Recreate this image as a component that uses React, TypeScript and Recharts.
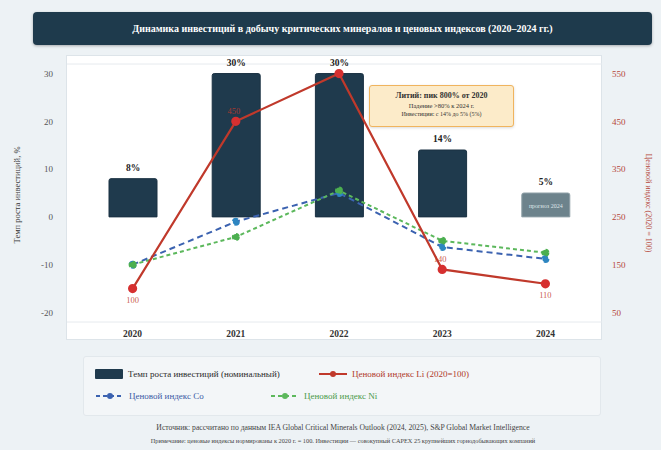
import React from 'react';
import { ComposedChart, Bar, Line, XAxis, YAxis, CartesianGrid, LabelList, Cell } from 'recharts';

const years = ['2020', '2021', '2022', '2023', '2024'];
const investmentGrowth = [8, 30, 30, 14, 5];
const barNotes = ['', '', '', '', 'прогноз 2024'];
const liIndex = [100, 450, 550, 140, 110];
const liShowLabel = [true, true, false, true, true];
const coIndex = [150, 240, 300, 187, 162];
const niIndex = [150, 208, 305, 200, 175];
const leftTicks = [-20, -10, 0, 10, 20, 30];
const rightTicks = [50, 150, 250, 350, 450, 550];

const title = 'Динамика инвестиций в добычу критических минералов и ценовых индексов (2020–2024 гг.)';
const leftAxisTitle = 'Темп роста инвестиций, %';
const rightAxisTitle = 'Ценовой индекс (2020 = 100)';
const noteLines = ['Литий: пик 800% от 2020', 'Падение >80% к 2024 г.', 'Инвестиции: с 14% до 5% (5%)'];
const sourceLine = 'Источник: рассчитано по данным IEA Global Critical Minerals Outlook (2024, 2025), S&P Global Market Intelligence';
const remarkLine = 'Примечание: ценовые индексы нормированы к 2020 г. = 100. Инвестиции — совокупный CAPEX 25 крупнейших горнодобывающих компаний';

const legendItems = [
  { name: 'Темп роста инвестиций (номинальный)', kind: 'bar', color: '#1f3a4d', text: '#2a2a2a' },
  { name: 'Ценовой индекс Li (2020=100)', kind: 'solid', color: '#c0392b', text: '#b0392b' },
  { name: 'Ценовой индекс Co', kind: 'dash', color: '#3b62b0', text: '#3b5ba5' },
  { name: 'Ценовой индекс Ni', kind: 'dash', color: '#5cb85c', text: '#4a9a4a' },
];

const data = years.map((y, i) => ({
  year: y,
  inv: investmentGrowth[i],
  note: barNotes[i],
  li: liIndex[i],
  co: coIndex[i],
  ni: niIndex[i],
}));

const FONT = '"Liberation Serif", "Times New Roman", serif';

const BarTopLabel = (props: any) => {
  const { x, y, width, height, value, index } = props;
  const note = barNotes[index];
  return (
    <g>
      <text x={x + width / 2} y={y - 8} textAnchor="middle" fontFamily={FONT} fontSize={9.5} fontWeight="bold" fill="#222">
        {value}%
      </text>
      {note ? (
        <text x={x + width / 2} y={y + height / 2 + 3} textAnchor="middle" fontFamily={FONT} fontSize={6} fill="#dfe7ea">
          {note}
        </text>
      ) : null}
    </g>
  );
};

const LiLabel = (props: any) => {
  const { x, y, value, index } = props;
  if (!liShowLabel[index]) return null;
  const below = index === 0 || index === years.length - 1;
  return (
    <text x={x - (below ? 0 : 2)} y={below ? y + 14 : y - 7} textAnchor="middle" fontFamily={FONT} fontSize={8.5} fill="#c0392b" fillOpacity={0.85}>
      {value}
    </text>
  );
};

const LegendSwatch = ({ kind, color }: { kind: string; color: string }) => {
  if (kind === 'bar') {
    return (
      <svg width={28} height={10} style={{ display: 'block' }}>
        <rect x={0} y={0} width={28} height={10} rx={1} fill={color} />
      </svg>
    );
  }
  return (
    <svg width={28} height={10} style={{ display: 'block' }}>
      <line x1={0} y1={5} x2={28} y2={5} stroke={color} strokeWidth={2} strokeDasharray={kind === 'dash' ? '4 3' : undefined} />
      <circle cx={14} cy={5} r={3} fill={color} />
    </svg>
  );
};

export default function App() {
  return (
    <div style={{ position: 'absolute', left: 0, top: 0, width: 661, height: 450, background: '#edf2f5', fontFamily: FONT, overflow: 'hidden' }}>
      <div style={{ position: 'absolute', left: 33, top: 12, width: 619, height: 33, background: '#1e3a4c', borderRadius: 4, boxShadow: '0 1px 3px rgba(0,0,0,0.3)', display: 'flex', alignItems: 'center', justifyContent: 'center', color: '#fff', fontSize: 10, fontWeight: 'bold' }}>
        {title}
      </div>
      <div style={{ position: 'absolute', left: 66, top: 55, width: 536, height: 285, background: '#ffffff', border: '1px solid #dde4e9', boxSizing: 'border-box' }} />
      <div style={{ position: 'absolute', left: 0, top: 0 }}>
        <ComposedChart width={661} height={360} data={data} margin={{ top: 64, left: 27, right: 19, bottom: 8 }}>
          <CartesianGrid vertical={false} stroke="#e6eaee" strokeWidth={1} />
          <XAxis dataKey="year" axisLine={false} tickLine={false} height={30} tickMargin={2} padding={{ left: 14, right: 5 }}
            tick={{ fontFamily: FONT, fontSize: 9.5, fontWeight: 'bold', fill: '#333' }} />
          <YAxis yAxisId="left" width={40} domain={[-22, 32]} ticks={leftTicks} axisLine={false} tickLine={false} tickMargin={8}
            tick={{ fontFamily: FONT, fontSize: 9, fill: '#555' }} />
          <YAxis yAxisId="right" orientation="right" width={40} domain={[30, 570]} ticks={rightTicks} axisLine={false} tickLine={false} tickMargin={4}
            tick={{ fontFamily: FONT, fontSize: 9, fill: '#b5473a', textAnchor: 'start' }} />
          <Bar yAxisId="left" dataKey="inv" barSize={48} radius={[2, 2, 0, 0]} isAnimationActive={false}>
            {data.map((d, i) => (
              <Cell key={d.year} fill={barNotes[i] ? '#6d838c' : '#1f3a4d'} stroke={barNotes[i] ? '#8fa0a7' : '#1a3142'} strokeWidth={1} />
            ))}
            <LabelList dataKey="inv" content={BarTopLabel} />
          </Bar>
          <Line yAxisId="right" dataKey="co" stroke="#3b62b0" strokeWidth={2} strokeDasharray="6 4"
            dot={{ r: 3, fill: '#2e86c1', stroke: '#2e86c1' }} isAnimationActive={false} />
          <Line yAxisId="right" dataKey="ni" stroke="#5cb85c" strokeWidth={2} strokeDasharray="4 3"
            dot={{ r: 3, fill: '#4caf50', stroke: '#4caf50' }} isAnimationActive={false} />
          <Line yAxisId="right" dataKey="li" stroke="#c0392b" strokeWidth={2.2}
            dot={{ r: 3.5, fill: '#d63030', stroke: '#d63030' }} isAnimationActive={false}>
            <LabelList dataKey="li" content={LiLabel} />
          </Line>
        </ComposedChart>
      </div>
      <div style={{ position: 'absolute', left: 8, top: 195, width: 0, height: 0 }}>
        <div style={{ position: 'absolute', transform: 'translate(-50%, -50%) rotate(-90deg)', whiteSpace: 'nowrap', fontSize: 8.5, color: '#333', left: 9 }}>
          {leftAxisTitle}
        </div>
      </div>
      <div style={{ position: 'absolute', left: 648, top: 203, width: 0, height: 0 }}>
        <div style={{ position: 'absolute', transform: 'translate(-50%, -50%) rotate(90deg)', whiteSpace: 'nowrap', fontSize: 8, color: '#b5473a' }}>
          {rightAxisTitle}
        </div>
      </div>
      <div style={{ position: 'absolute', left: 369, top: 85, width: 145, height: 42, background: '#fcebc9', border: '1px solid #f0b45e', borderRadius: 3, boxSizing: 'border-box', boxShadow: '0 1px 3px rgba(0,0,0,0.15)', textAlign: 'center', color: '#333', paddingTop: 5 }}>
        <div style={{ fontSize: 8, fontWeight: 'bold', lineHeight: '10px' }}>{noteLines[0]}</div>
        <div style={{ fontSize: 6.5, lineHeight: '9px' }}>{noteLines[1]}</div>
        <div style={{ fontSize: 6, lineHeight: '9px' }}>{noteLines[2]}</div>
      </div>
      <div style={{ position: 'absolute', left: 83, top: 356, width: 518, height: 60, background: '#f3f6f8', border: '1px solid #e2e8ec', borderRadius: 3, boxSizing: 'border-box' }}>
        {legendItems.map((it, i) => {
          const pos = [
            { left: 11, top: 12 },
            { left: 235, top: 12 },
            { left: 12, top: 34 },
            { left: 187, top: 34 },
          ][i];
          return (
            <div key={it.name} style={{ position: 'absolute', left: pos.left, top: pos.top, display: 'flex', alignItems: 'center', gap: 5, whiteSpace: 'nowrap' }}>
              <LegendSwatch kind={it.kind} color={it.color} />
              <span style={{ fontSize: 9, color: it.text }}>{it.name}</span>
            </div>
          );
        })}
      </div>
      <div style={{ position: 'absolute', left: 25, width: 636, top: 423, textAlign: 'center', fontSize: 7.7, color: '#444', whiteSpace: 'nowrap' }}>{sourceLine}</div>
      <div style={{ position: 'absolute', left: 25, width: 636, top: 437, textAlign: 'center', fontSize: 6.3, color: '#444', whiteSpace: 'nowrap' }}>{remarkLine}</div>
    </div>
  );
}
